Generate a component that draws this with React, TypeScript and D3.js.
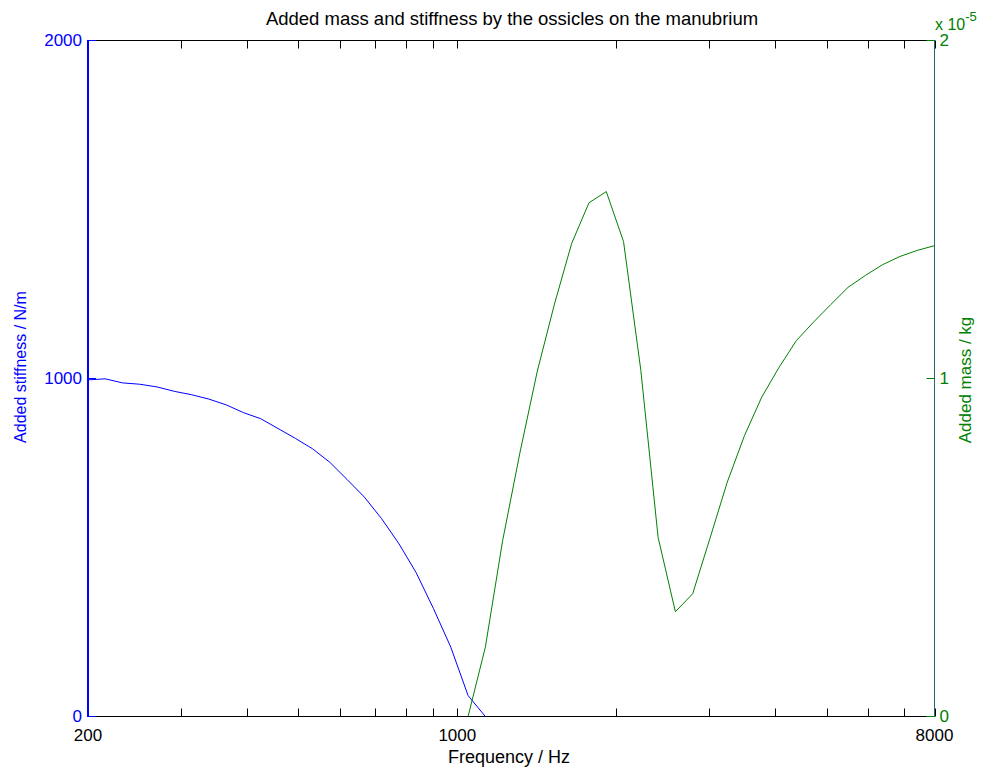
import React from "react";
import * as d3 from "d3";

// frequency grid (Hz), 50 log-spaced points 200..8000
const freqHz = [
  200, 215.6, 232.5, 250.7, 270.3, 291.4, 314.2, 338.8, 365.3, 393.8,
  424.6, 457.8, 493.6, 532.2, 573.8, 618.7, 667.1, 719.2, 775.5, 836.1,
  901.5, 972.0, 1048.0, 1129.9, 1218.2, 1313.5, 1416.2, 1526.9, 1646.3, 1775.1,
  1913.9, 2063.5, 2224.9, 2398.8, 2586.4, 2788.6, 3006.7, 3241.7, 3495.2, 3768.5,
  4063.2, 4380.9, 4723.4, 5092.8, 5491.0, 5920.3, 6383.2, 6882.3, 7420.5, 8000,
];

// added stiffness (N/m), first 24 frequencies
const stiffness = [
  996, 999, 987, 983, 975, 962, 952, 939, 922, 899,
  881, 852, 823, 792, 752, 701, 649, 585, 511, 425,
  319, 205, 62, 0,
];

// added mass (kg), from frequency index 22 onwards
const massStart = 22;
const addedMass = [
  0, 2.05e-6, 5.2e-6, 7.8e-6, 1.02e-5, 1.22e-5, 1.4e-5, 1.52e-5, 1.553e-5, 1.405e-5,
  1.024e-5, 5.3e-6, 3.1e-6, 3.63e-6, 5.27e-6, 6.93e-6, 8.31e-6, 9.45e-6, 1.033e-5, 1.112e-5,
  1.167e-5, 1.219e-5, 1.27e-5, 1.305e-5, 1.337e-5, 1.361e-5, 1.379e-5, 1.393e-5,
];

const xTicks = [200, 1000, 8000];
const xMinorTicks = [300, 400, 500, 600, 700, 800, 900, 2000, 3000, 4000, 5000, 6000, 7000];
const stiffTicks = [0, 1000, 2000];
const massTicks = [0, 1e-5, 2e-5];

const BLUE = "#0000ff";
const GREEN = "#008000";
const FONT = "'Liberation Sans', Arial, Helvetica, sans-serif";

export default function App() {
  const width = 987;
  const height = 770;
  const left = 88;
  const right = 934.5;
  const top = 40.5;
  const bottom = 716.5;
  const tickLen = 8;

  const x = d3.scaleLog().domain([200, 8000]).range([left, right]);
  const yL = d3.scaleLinear().domain([0, 2000]).range([bottom, top]);
  const yR = d3.scaleLinear().domain([0, 2e-5]).range([bottom, top]);

  const stiffLine = d3
    .line<number>()
    .x((d, i) => x(freqHz[i]))
    .y((d) => yL(d));
  const massLine = d3
    .line<number>()
    .x((d, i) => x(freqHz[i + massStart]))
    .y((d) => yR(d));

  const allX = [...xTicks, ...xMinorTicks];

  return (
    <svg
      width={width}
      height={height}
      style={{ position: "absolute", left: 0, top: 0, background: "#fff" }}
      fontFamily={FONT}
    >
      <rect x={0} y={0} width={width} height={height} fill="#fff" />
      <defs>
        <clipPath id="plotClip">
          <rect x={left} y={top - 1} width={right - left} height={bottom - top + 1} />
        </clipPath>
      </defs>

      {/* box lines */}
      <line x1={left} x2={right} y1={top} y2={top} stroke="#000" />
      <line x1={left} x2={right} y1={bottom} y2={bottom} stroke="#000" />

      {/* x ticks top & bottom */}
      {allX.map((t) => (
        <g key={t}>
          <line x1={Math.round(x(t)) + 0.5} x2={Math.round(x(t)) + 0.5} y1={bottom} y2={bottom - tickLen} stroke="#000" />
          <line x1={Math.round(x(t)) + 0.5} x2={Math.round(x(t)) + 0.5} y1={top} y2={top + tickLen} stroke="#000" />
        </g>
      ))}

      {/* data */}
      <g clipPath="url(#plotClip)" fill="none">
        <path d={stiffLine(stiffness) ?? ""} stroke={BLUE} strokeWidth={1} />
        <path d={massLine(addedMass) ?? ""} stroke={GREEN} strokeWidth={1} />
      </g>

      {/* left axis */}
      <line x1={left} x2={left} y1={top - 0.5} y2={bottom + 0.5} stroke={BLUE} strokeWidth={2} />
      {stiffTicks.map((t) => (
        <g key={t}>
          <line x1={left} x2={left + tickLen} y1={yL(t)} y2={yL(t)} stroke={BLUE} />
          <text x={left - 6} y={yL(t) + 5.5} textAnchor="end" fontSize={17} fill={BLUE}>
            {t}
          </text>
        </g>
      ))}

      {/* right axis */}
      <line x1={right} x2={right} y1={top - 0.5} y2={bottom + 0.5} stroke="#2a6a6a" />
      {massTicks.map((t) => (
        <g key={t}>
          <line x1={right} x2={right - tickLen} y1={yR(t)} y2={yR(t)} stroke={GREEN} />
          <text x={right + 5} y={yR(t) + 5.5} textAnchor="start" fontSize={17} fill={GREEN}>
            {d3.format("d")(t / 1e-5)}
          </text>
        </g>
      ))}
      <text x={935} y={29.5} fontSize={16} fill={GREEN}>
        x 10
        <tspan dy={-9} fontSize={13}>-5</tspan>
      </text>

      {/* x tick labels */}
      {xTicks.map((t) => (
        <text key={t} x={x(t)} y={741} textAnchor="middle" fontSize={17} fill="#000">
          {t}
        </text>
      ))}

      {/* titles */}
      <text x={512} y={25} textAnchor="middle" fontSize={18.5} fill="#000">
        Added mass and stiffness by the ossicles on the manubrium
      </text>
      <text x={509} y={763} textAnchor="middle" fontSize={18} fill="#000">
        Frequency / Hz
      </text>
      <text
        transform={`translate(26,367) rotate(-90)`}
        textAnchor="middle"
        fontSize={16}
        fill={BLUE}
      >
        Added stiffness / N/m
      </text>
      <text
        transform={`translate(971,380) rotate(-90)`}
        textAnchor="middle"
        fontSize={17}
        fill={GREEN}
      >
        Added mass / kg
      </text>
    </svg>
  );
}
